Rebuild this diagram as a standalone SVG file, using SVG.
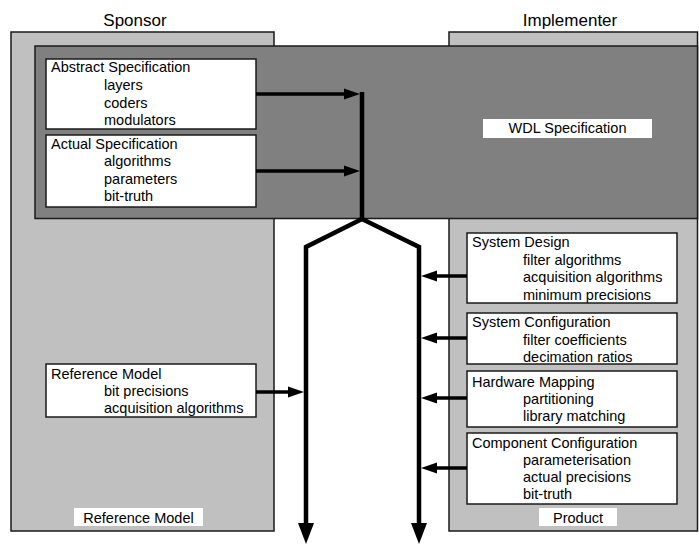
<svg xmlns="http://www.w3.org/2000/svg" width="699" height="544" viewBox="0 0 699 544">
<style>
text{font-family:"Liberation Sans",Arial,sans-serif;font-size:14.5px;fill:#000}
.head{font-size:17px;text-anchor:middle}
.mid{text-anchor:middle}
.light{fill:#c0c0c0;stroke:#1a1a1a;stroke-width:1.5}
.dark{fill:#808080;stroke:#1a1a1a;stroke-width:1.5}
.box{fill:#fff;stroke:#1a1a1a;stroke-width:1.5}
.lbl{fill:#fff;stroke:none}
.thin{fill:none;stroke:#000;stroke-width:3.5}
.thick{fill:none;stroke:#000;stroke-width:4.5;stroke-linejoin:miter}
</style>
<defs>
<marker id="ah" markerUnits="userSpaceOnUse" markerWidth="17" markerHeight="12" refX="0" refY="5.5" orient="auto" overflow="visible">
<path d="M0,0 L16,5.5 L0,11 z" fill="#000"/>
</marker>
<marker id="bh" markerUnits="userSpaceOnUse" markerWidth="22" markerHeight="17" refX="0" refY="8" orient="auto" overflow="visible">
<path d="M0,0 L21,8 L0,16 z" fill="#000"/>
</marker>
</defs>

<g id="sponsor">
<text class="head" x="135" y="25.5">Sponsor</text>
<rect class="light" x="11" y="32" width="263" height="499"/>
<rect class="lbl" x="74" y="508" width="129" height="18"/>
<text class="mid" x="138.5" y="523">Reference Model</text>
</g>

<g id="implementer">
<text class="head" x="570" y="25.5">Implementer</text>
<rect class="light" x="449" y="32" width="248.5" height="499"/>
<rect class="lbl" x="539" y="508" width="78" height="18"/>
<text class="mid" x="578" y="523">Product</text>
</g>

<g id="wdl-specification">
<rect class="dark" x="35" y="46" width="662.5" height="172.5"/>
<rect class="lbl" x="483" y="119" width="169" height="19"/>
<text class="mid" x="567.5" y="133">WDL Specification</text>
</g>

<g id="abstract-specification">
<rect class="box" x="46" y="59" width="210" height="70"/>
<text x="51" y="72">Abstract Specification</text>
<text x="104" y="89.8">layers</text>
<text x="104" y="107.6">coders</text>
<text x="104" y="125.4">modulators</text>
</g>

<g id="actual-specification">
<rect class="box" x="46" y="135" width="210" height="72"/>
<text x="51" y="148.5">Actual Specification</text>
<text x="104" y="166">algorithms</text>
<text x="104" y="183.5">parameters</text>
<text x="104" y="201">bit-truth</text>
</g>

<g id="reference-model">
<rect class="box" x="46" y="364" width="210" height="53"/>
<text x="51" y="379">Reference Model</text>
<text x="104" y="396">bit precisions</text>
<text x="104" y="413">acquisition algorithms</text>
</g>

<g id="system-design">
<rect class="box" x="467" y="233" width="210" height="70"/>
<text x="472" y="247">System Design</text>
<text x="523" y="264.5">filter algorithms</text>
<text x="523" y="282">acquisition algorithms</text>
<text x="523" y="299.5">minimum precisions</text>
</g>

<g id="system-configuration">
<rect class="box" x="467" y="313" width="210" height="51"/>
<text x="472" y="327">System Configuration</text>
<text x="523" y="344.5">filter coefficients</text>
<text x="523" y="362">decimation ratios</text>
</g>

<g id="hardware-mapping">
<rect class="box" x="467" y="371" width="210" height="56"/>
<text x="472" y="386.5">Hardware Mapping</text>
<text x="523" y="403.5">partitioning</text>
<text x="523" y="420.5">library matching</text>
</g>

<g id="component-configuration">
<rect class="box" x="467" y="433" width="210" height="71"/>
<text x="472" y="448">Component Configuration</text>
<text x="523" y="465">parameterisation</text>
<text x="523" y="482">actual precisions</text>
<text x="523" y="499">bit-truth</text>
</g>

<g id="connectors">
<path class="thin" d="M256,94 H344" marker-end="url(#ah)"/>
<path class="thin" d="M256,171 H344" marker-end="url(#ah)"/>
<path class="thick" d="M362,92 V219"/>
<path class="thick" d="M362,219 L306,247 V523" marker-end="url(#bh)"/>
<path class="thick" d="M362,219 L419,247 V523" marker-end="url(#bh)"/>
<path class="thin" d="M256,392 H288" marker-end="url(#ah)"/>
<path class="thin" d="M467,276 H437" marker-end="url(#ah)"/>
<path class="thin" d="M467,338 H437" marker-end="url(#ah)"/>
<path class="thin" d="M467,398 H437" marker-end="url(#ah)"/>
<path class="thin" d="M467,468 H437" marker-end="url(#ah)"/>
</g>
</svg>
